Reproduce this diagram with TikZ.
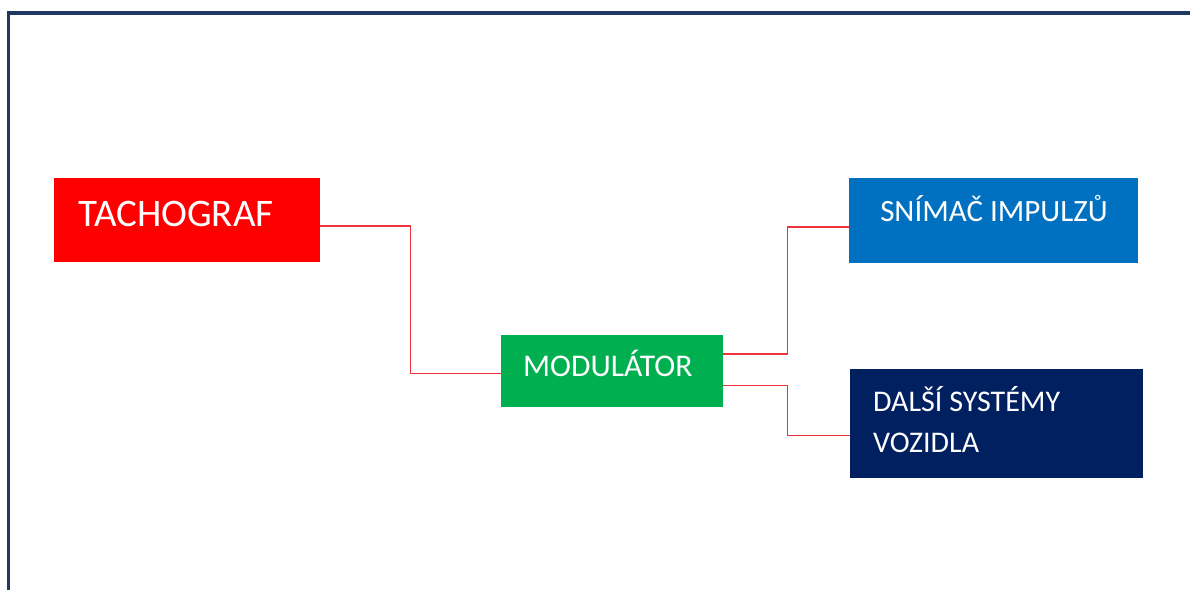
\documentclass[tikz,border=0pt]{standalone}
\usepackage{fontspec}
\setmainfont{Carlito}
\usetikzlibrary{calc}
\definecolor{tred}{HTML}{FF0000}
\definecolor{tgreen}{HTML}{00B050}
\definecolor{tblue}{HTML}{0070C0}
\definecolor{tnavy}{HTML}{002060}
\definecolor{frame}{HTML}{1F3864}
\definecolor{conn}{HTML}{F0323C}
\begin{document}
\begin{tikzpicture}[x=1bp,y=-1bp,
  box/.style={draw=none,inner sep=0pt,anchor=north west},
  lbl/.style={text=white,inner sep=0pt,anchor=base west},
  wire/.style={draw=conn,line width=1.4bp}]
\useasboundingbox (0,0) rectangle (1190,590);
\clip (0,0) rectangle (1190,590);
\fill[white] (0,0) rectangle (1190,590);
\draw[frame,line width=3.4bp] (8.6,13.2) rectangle (1260,660);
% boxes
\node[box,fill=tred,minimum width=266bp,minimum height=84bp] (tach) at (54,178) {};
\node[box,fill=tgreen,minimum width=222bp,minimum height=72bp] (mod) at (501,335) {};
\node[box,fill=tblue,minimum width=289bp,minimum height=85bp] (sn) at (849,178) {};
\node[box,fill=tnavy,minimum width=293bp,minimum height=109bp] (dal) at (850,369) {};
% labels
\node[lbl,font=\fontsize{39bp}{44bp}\selectfont] (tachT) at (78,227) {TACHOGRAF};
\node[lbl,font=\fontsize{31.6bp}{36bp}\selectfont] (modT) at (523,376) {MODULÁTOR};
\node[lbl,font=\fontsize{31bp}{36bp}\selectfont,anchor=base] (snT) at (994,222) {SNÍMAČ IMPULZŮ};
\node[lbl,font=\fontsize{30bp}{36bp}\selectfont] (dalT1) at (873,411) {DALŠÍ SYSTÉMY};
\node[lbl,font=\fontsize{30bp}{36bp}\selectfont] (dalT2) at (873,452) {VOZIDLA};
% connectors
\draw[wire] ([yshift=-6bp]tach.east) -- ++(90,0) |- ([yshift=-2bp]mod.west);
\draw[wire] ([yshift=17bp]mod.east) -- ++(64,0) |- ([yshift=-6.5bp]sn.west);
\draw[wire] ([yshift=-14bp]mod.east) -- ++(64,0) |- ([yshift=-11.5bp]dal.west);
\end{tikzpicture}
\end{document}
